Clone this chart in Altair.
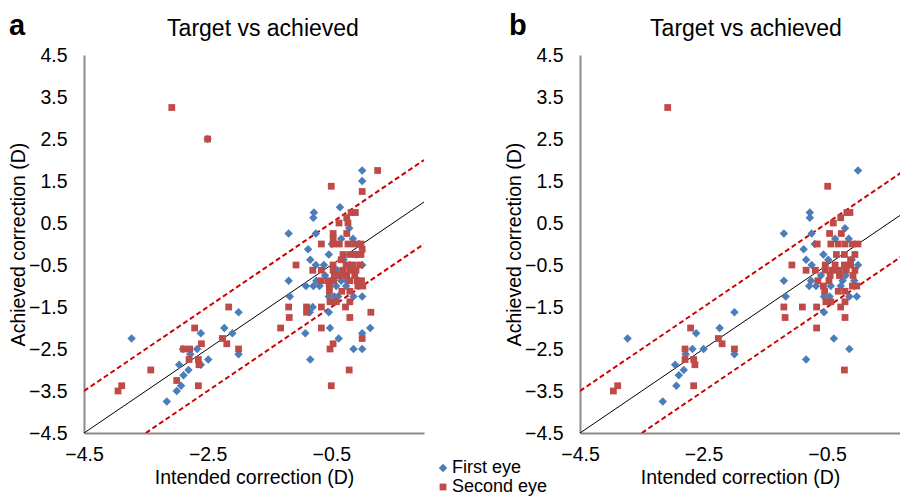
import altair as alt
import pandas as pd

FONT = "Liberation Sans"
SERIES = ["First eye", "Second eye"]
COLORS = ["#4A7EBB", "#BE4B48"]
SHAPES = ["diamond", "square"]

x_ticks = [-4.5, -2.5, -0.5]
y_ticks = [-4.5, -3.5, -2.5, -1.5, -0.5, 0.5, 1.5, 2.5, 3.5, 4.5]
a_x_domain = [-4.5, 1.0]
b_x_domain = [-4.5, 0.68]   # panel b is cut at the right edge of the figure
y_domain = [-4.5, 4.5]

# reference lines: perfect correction and +/- 1 D bounds
identity_x = [-4.5, 1.0]
identity_y = [-4.5, 1.0]
upper_x = [-4.5, 1.0]
upper_y = [-3.5, 2.0]
lower_x = [-3.5, 1.0]
lower_y = [-4.5, 0.0]

# Panel a
a_first = [
    (-3.73, -2.25), (-3.16, -3.75), (-3.0, -3.5), (-2.93, -3.375), (-2.96, -2.875),
    (-2.89, -3.125), (-2.81, -3.0), (-2.9, -2.5), (-2.78, -2.625), (-2.67, -2.5),
    (-2.61, -2.125), (-2.61, -2.875), (-2.49, -2.75), (-2.23, -2.0), (-2.1, -2.125),
    (-2.0, -1.625), (-2.0, -2.625), (-2.5, 2.5),
    (0.0, 1.75), (0.0, 1.5), (-0.36, 0.875), (-0.78, 0.75), (-0.79, 0.625), (-1.19, 0.25),
    (-0.75, 0.25), (-0.21, 0.375), (-0.34, 0.125), (-0.15, 0.125), (-0.49, 0.0),
    (-0.875, -0.125), (-0.54, -0.25), (-0.84, -0.375), (-0.75, -0.5), (-1.19, -0.875),
    (-0.4, -0.625), (0.0, -0.5), (-0.34, -0.875), (-0.91, -1.0), (-0.79, -1.0),
    (-0.69, -1.0), (-0.53, -1.0), (-0.42, -1.0), (-0.26, -1.0), (-0.74, -0.875),
    (-0.39, -0.75), (-0.25, -0.875), (-0.07, -0.875), (-1.17, -1.25), (-0.54, -1.25),
    (-0.45, -1.25), (-0.39, -1.25), (-0.14, -1.25), (0.0, -1.25), (-0.8, -1.5),
    (-0.85, -1.625), (-0.54, -1.625), (-0.52, -2.0), (-0.92, -2.125), (-0.38, -2.25),
    (0.13, -2.0), (0.0, -2.125), (-0.14, -2.5), (0.0, -2.5), (-0.84, -2.75),
    (-0.6, -0.75), (-0.3, -0.375), (-0.1, -0.25), (-0.05, 0.0), (-0.2, -0.5), (-0.62, -0.5),
]
a_second = [
    (-3.95, -3.5), (-3.89, -3.375), (-3.42, -3.0), (-3.0, -3.25), (-2.89, -2.5),
    (-2.79, -2.5), (-2.8, -2.75), (-2.71, -2.0), (-2.65, -2.75), (-2.64, -2.875),
    (-2.65, -3.375), (-2.6, -2.375), (-2.26, -2.25), (-2.19, -2.375), (-2.16, -1.5),
    (-2.0, -2.5), (-3.08, 3.25), (-2.5, 2.5),
    (0.25, 1.75), (-0.5, 1.375), (0.0, 1.25), (-0.18, 0.75), (-0.11, 0.75), (-0.25, 0.625),
    (-0.23, 0.5), (-0.375, 0.5), (-0.47, 0.25), (-0.47, 0.125), (-0.25, 0.25), (-0.66, 0.0),
    (-0.47, 0.0), (-0.37, 0.0), (-0.23, 0.0), (-0.125, 0.0), (-0.02, 0.0), (0.0, -0.125),
    (-0.31, -0.25), (-0.2, -0.25), (-0.1, -0.25), (-0.02, -0.25), (-1.07, -0.5),
    (-0.47, -0.5), (-0.34, -0.375), (-0.26, -0.5), (-0.15, -0.5), (-0.04, -0.5),
    (-0.8, -0.625), (-0.66, -0.625), (-0.47, -0.625), (-0.31, -0.625), (-0.2, -0.625),
    (-0.1, -0.625), (-0.66, -0.875), (-0.55, -0.875), (-0.46, -0.875), (-0.2, -0.875),
    (-0.08, -0.875), (-0.01, -0.875), (-0.53, -1.0), (-0.07, -1.0), (0.01, -1.0),
    (-0.53, -1.125), (-0.33, -1.125), (-0.2, -1.125), (-0.52, -1.375), (-0.42, -1.375),
    (-0.2, -1.375), (-1.19, -1.5), (-0.9, -1.5), (-0.9, -1.625), (-0.66, -1.5),
    (-0.27, -1.5), (-1.18, -1.75), (-0.2, -1.75), (-1.32, -2.0), (-0.66, -2.0),
    (0.14, -1.625), (0.0, -2.25), (-0.47, -2.375), (-0.52, -2.5), (-0.21, -3.0),
    (-0.5, -3.375), (-0.45, -0.75), (-0.35, -0.75), (-0.25, -0.75), (-0.12, -0.75),
]

# Panel b
b_first = [
    (0.0, 1.75), (-0.78, 0.75), (-0.78, 0.625), (-0.75, 0.25), (-1.2, 0.25), (-0.21, 0.375),
    (-0.37, 0.125), (-0.15, 0.125), (-0.7, 0.0), (-0.88, -0.125), (-0.56, -0.25),
    (-0.84, -0.375), (-0.75, -0.5), (-0.48, -0.375), (0.0, -0.5), (-1.2, -0.875),
    (-0.76, -0.875), (-0.79, -1.0), (-0.68, -1.0), (-0.44, -1.0), (-0.28, -1.0),
    (-0.25, -0.875), (-0.06, -0.875), (-1.17, -1.25), (-0.55, -1.25), (-0.46, -1.25),
    (-0.14, -1.25), (-0.02, -1.25), (-0.55, -1.625), (-0.39, -2.25), (-0.84, -2.75),
    (-0.14, -2.5),
    (-2.0, -1.625), (-2.24, -2.0), (-2.62, -2.125), (-3.73, -2.25), (-2.68, -2.5),
    (-2.5, -2.5), (-2.79, -2.625), (-2.0, -2.625), (-2.96, -2.875), (-2.82, -3.0),
    (-2.9, -3.125), (-2.94, -3.375), (-3.16, -3.75),
    (-0.35, -0.625), (-0.2, -0.75), (-0.6, -0.75), (-0.1, -0.375),
]
b_second = [
    (-3.08, 3.25), (-3.96, -3.5), (-3.89, -3.375), (-2.71, -2.0), (-2.8, -2.5),
    (-2.8, -2.75), (-2.66, -2.75), (-2.64, -2.875), (-2.66, -3.375), (-2.26, -2.25),
    (-2.2, -2.375), (-2.0, -2.5),
    (-0.49, 1.375), (-0.28, 0.625), (-0.4, 0.5), (-0.18, 0.75), (-0.13, 0.75), (-0.46, 0.25),
    (-0.27, 0.25), (-0.66, 0.0), (-0.44, 0.0), (-0.32, 0.0), (-0.21, 0.0), (-0.09, 0.0),
    (0.0, 0.0), (-0.05, -0.25), (-1.07, -0.5), (-0.84, -0.625), (-0.69, -0.625),
    (-0.53, -0.625), (-0.42, -0.625), (-0.3, -0.625), (-0.19, -0.625), (-0.05, -0.625),
    (-0.53, -0.5), (-0.37, -0.5), (-0.22, -0.5), (-0.12, -0.5), (-0.35, -0.25),
    (-0.22, -0.25), (-0.12, -0.375), (-0.65, -0.875), (-0.47, -0.875), (-0.08, -0.75),
    (-0.56, -1.0), (-0.09, -1.0), (-0.02, -1.0), (-0.54, -1.125), (-0.32, -1.125),
    (-0.21, -1.125), (-0.52, -1.375), (-0.44, -1.375), (-0.21, -1.375), (-1.2, -1.5),
    (-0.9, -1.5), (-0.67, -1.5), (-0.28, -1.5), (-1.18, -1.75), (-0.21, -1.75),
    (-0.67, -2.0), (-0.22, -3.0), (-0.45, -0.75), (-0.3, -0.75),
]

lines_df = pd.DataFrame(
    [{"x": x, "y": y, "line": "identity"} for x, y in zip(identity_x, identity_y)]
)
band_df = pd.DataFrame(
    [{"x": x, "y": y, "line": "upper"} for x, y in zip(upper_x, upper_y)]
    + [{"x": x, "y": y, "line": "lower"} for x, y in zip(lower_x, lower_y)]
)

AXIS_COMMON = dict(
    grid=False, ticks=False, labelFont=FONT, labelFontSize=19.5, labelColor="black",
    titleFont=FONT, titleFontSize=19.5, titleFontWeight="normal", titleColor="black",
    domainColor="#898989", domainWidth=2, labelFlush=False, labelOverlap=False,
    format=".1f",
)

PLOT_H = 378


def panel(first, second, label, label_x, title_x, x_domain, width):
    pts = pd.DataFrame(
        [{"x": x, "y": y, "series": SERIES[0]} for x, y in first]
        + [{"x": x, "y": y, "series": SERIES[1]} for x, y in second]
    )
    xenc = alt.X("x:Q", scale=alt.Scale(domain=x_domain, nice=False, zero=False),
                 axis=alt.Axis(values=x_ticks, title="Intended correction (D)",
                               labelPadding=12, titlePadding=5, **AXIS_COMMON))
    yenc = alt.Y("y:Q", scale=alt.Scale(domain=y_domain, nice=False, zero=False),
                 axis=alt.Axis(values=y_ticks, title="Achieved correction (D)",
                               labelPadding=17, titlePadding=0, **AXIS_COMMON))
    band = alt.Chart(band_df).mark_line(
        color="#CC0000", strokeWidth=2, strokeDash=[5, 3], clip=True
    ).encode(x=xenc, y=yenc, detail="line:N")
    ident = alt.Chart(lines_df).mark_line(color="black", strokeWidth=1, clip=True).encode(
        x=xenc, y=yenc)
    points = alt.Chart(pts).mark_point(filled=True, opacity=1, strokeWidth=0).encode(
        x=xenc, y=yenc,
        color=alt.Color("series:N", scale=alt.Scale(domain=SERIES, range=COLORS),
                        legend=alt.Legend(title=None, orient="none", legendX=350,
                                          legendY=404, labelFont=FONT,
                                          labelFontSize=18, labelColor="black",
                                          symbolSize=60, rowPadding=1,
                                          labelOffset=0, padding=0)),
        shape=alt.Shape("series:N", scale=alt.Scale(domain=SERIES, range=SHAPES)),
        size=alt.Size("series:N", scale=alt.Scale(domain=SERIES, range=[72, 46]),
                      legend=None),
    )
    lab = alt.Chart(pd.DataFrame({"t": [label]})).mark_text(
        font=FONT, fontSize=29, fontWeight="bold", align="left",
        baseline="alphabetic", color="black"
    ).encode(x=alt.value(label_x), y=alt.value(-20), text="t:N")
    ttl = alt.Chart(pd.DataFrame({"t": ["Target vs achieved"]})).mark_text(
        font=FONT, fontSize=23, align="center", baseline="alphabetic", color="black"
    ).encode(x=alt.value(title_x), y=alt.value(-19), text="t:N")
    return alt.layer(band, ident, points, lab, ttl).properties(width=width, height=PLOT_H)


chart = alt.hconcat(
    panel(a_first, a_second, "a", -75, 179, a_x_domain, 340),
    panel(b_first, b_second, "b", -71, 166, b_x_domain, 320),
    spacing=80,
).properties(
    padding={"left": 0, "top": 4, "right": 0, "bottom": 0},
    background="white",
).configure_view(stroke=None)

chart.save("out.html", embed_options={"renderer": "svg", "actions": False})
